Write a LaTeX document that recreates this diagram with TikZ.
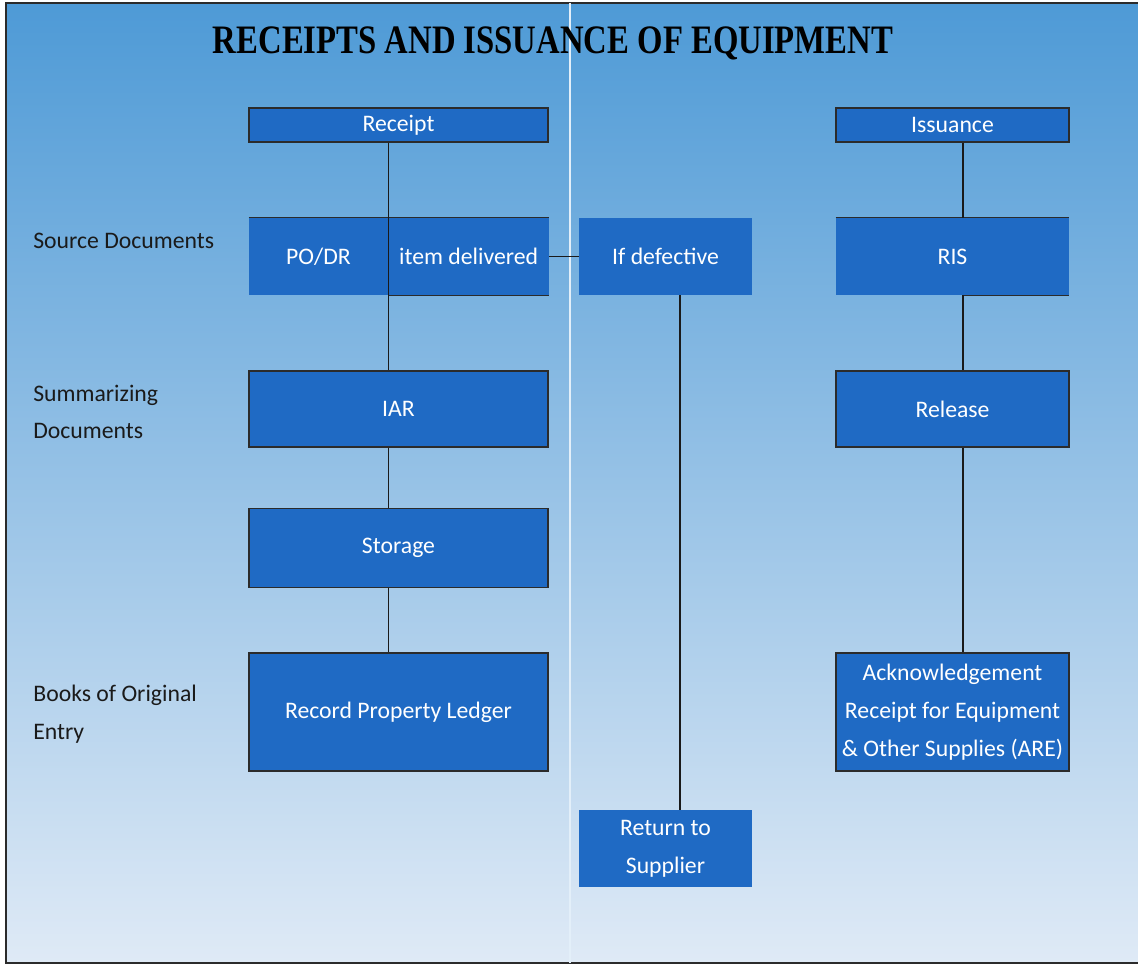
\documentclass[tikz,border=0pt]{standalone}
\usepackage{fontspec}
\setmainfont{Carlito}
\newfontfamily\titlefont{Liberation Serif}
\usetikzlibrary{positioning}
\definecolor{EqBlue}{HTML}{1F6AC4}
\definecolor{EqSkyTop}{HTML}{4E9AD6}
\definecolor{EqSkyMid}{HTML}{A2CBEA}
\definecolor{EqSkyLow}{HTML}{DFEAF6}
\definecolor{EqInk}{HTML}{1A1A1A}
\definecolor{EqFrame}{HTML}{2B2B2B}
\tikzset{
  eqBase/.style={
    font=\fontsize{13.5pt}{21.5pt}\selectfont,
    align=center,
    inner sep=2pt,
    fill=EqBlue,
    text=white
  },
  eqHead/.style={
    eqBase,
    draw=EqFrame,
    line width=0.9pt,
    minimum height=0.68cm
  },
  eqStep/.style={
    eqBase,
    draw=EqFrame,
    line width=0.9pt
  },
  eqPlain/.style={
    eqBase
  },
  eqLabel/.style={
    font=\fontsize{13.5pt}{21.5pt}\selectfont,
    align=left,
    anchor=west,
    inner sep=0pt,
    text=EqInk
  },
  eqEdge/.style={
    draw=EqFrame,
    line width=0.9pt
  },
  eqLink/.style={
    draw=EqInk,
    line width=0.9pt
  }
}
\begin{document}
\begin{tikzpicture}[x=0.02cm, y=-0.02cm]
  \useasboundingbox (0,0) rectangle (1138,965);
  \shade[top color=EqSkyTop, middle color=EqSkyMid, bottom color=EqSkyLow] (6,3) rectangle (1138,963);
  \draw[EqFrame, line width=1pt] (1138,3) -- (6,3) -- (6,963) -- (1138,963);
  % fold of the sheet
  \draw[white!70!EqSkyMid, line width=0.8pt] (570,3) -- (570,963);

  \node (title) at (553,43) {\titlefont\bfseries\fontsize{23pt}{23pt}\selectfont\scalebox{0.81}[1]{RECEIPTS AND ISSUANCE OF EQUIPMENT}};

  % row labels
  \node (lb1) [eqLabel] at (33,241) {Source Documents};
  \node (lb2) [eqLabel] at (33,412) {Summarizing\\Documents};
  \node (lb3) [eqLabel] at (33,714) {Books of Original\\Entry};

  % receipt column
  \node (rc1) [eqHead, minimum width=5.98cm] at (398.5,125) {Receipt};
  \node (rc2a) [eqPlain, minimum width=2.78cm, minimum height=1.54cm] at (318.5,256.5) {PO/DR};
  \node (rc2b) [eqPlain, minimum width=3.2cm, minimum height=1.54cm, right=0pt of rc2a] {item delivered};
  \node (rc3) [eqStep, minimum width=5.98cm, minimum height=1.52cm] at (398.5,409) {IAR};
  \node (rc4) [eqStep, minimum width=5.98cm, minimum height=1.58cm, below=1.2cm of rc3] {Storage};
  \node (rc5) [eqStep, minimum width=5.98cm, minimum height=2.36cm] at (398.5,712) {Record Property Ledger};

  % defective items
  \node (df1) [eqPlain, minimum width=3.46cm, minimum height=1.54cm] at (665.5,256.5) {If defective};
  \node (df2) [eqPlain, minimum width=3.46cm, minimum height=1.54cm] at (665.5,848.5) {Return to\\Supplier};

  % issuance column
  \node (is1) [eqHead, minimum width=4.66cm] at (952.5,125) {Issuance};
  \node (is2) [eqPlain, minimum width=4.66cm, minimum height=1.54cm] at (952.5,256.5) {RIS};
  \node (is3) [eqStep, minimum width=4.66cm, minimum height=1.52cm] at (952.5,409) {Release};
  \node (is4) [eqStep, minimum width=4.66cm, minimum height=2.36cm] at (952.5,712) {Acknowledgement\\Receipt for Equipment\\\& Other Supplies (ARE)};

  \coordinate (isx) at (963,0);
  \coordinate (dfx) at (680,0);

  \draw[eqEdge] (rc2a.north west) -- (rc2b.north east);
  \draw[eqEdge] (rc2b.south west) -- (rc2b.south east);
  \draw[eqEdge] (is2.north west) -- (is2.north east);
  \draw[eqEdge] (is2.south -| isx) -- (is2.south east);

  \draw[eqLink] (rc1.south -| rc2b.west) -- (rc3.north -| rc2b.west);
  \draw[eqLink] (rc3.south -| rc2b.west) -- (rc4.north -| rc2b.west);
  \draw[eqLink] (rc4.south -| rc2b.west) -- (rc5.north -| rc2b.west);
  \draw[eqLink] (rc2b.east) -- (df1.west);
  \draw[eqLink] (df1.south -| dfx) -- (df2.north -| dfx);
  \draw[eqLink] (is1.south -| isx) -- (is2.north -| isx);
  \draw[eqLink] (is2.south -| isx) -- (is3.north -| isx);
  \draw[eqLink] (is3.south -| isx) -- (is4.north -| isx);
\end{tikzpicture}
\end{document}
